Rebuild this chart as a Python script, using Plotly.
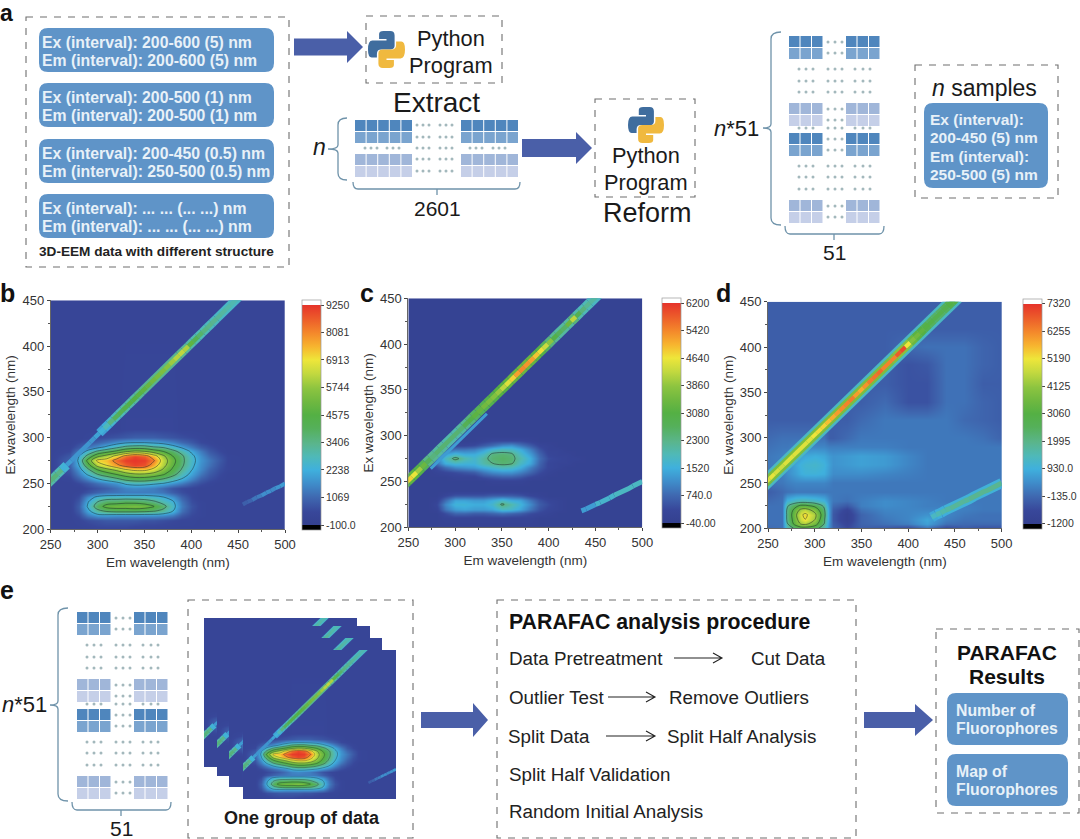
import plotly.graph_objects as go

W, H = 1080, 839
FONT = "Liberation Sans"

# ---------- EEM data ----------
EM_GRID = [250,270,280,290,300,310,320,330,340,350,360,370,380,390,400,410,420,430,440,460,500]
EX_GRID = [200,210,215,220,225,230,235,240,245,250,255,260,265,270,275,280,285,290,295,300,310,450]

Z_B_HUNDREDS = [
 [3,3,3,3,4,4,4,4,3,3,3,3,3,3,3,3,3,3,3,3,3],
 [3,3,4,6,7,8,8,8,8,7,7,6,5,4,4,3,3,3,3,3,3],
 [3,3,6,14,19,19,18,18,18,18,18,17,14,8,5,4,3,3,3,3,3],
 [3,3,8,20,31,36,38,38,38,37,35,31,23,12,6,4,3,3,3,3,3],
 [3,3,9,24,40,50,52,52,54,52,46,38,26,14,7,4,3,3,3,3,3],
 [3,3,8,22,34,40,41,43,42,40,36,30,24,13,6,4,3,3,3,3,3],
 [3,3,6,17,25,28,28,28,28,28,26,23,18,10,5,3,3,3,3,3,3],
 [3,3,4,7,10,12,13,14,14,14,14,13,9,6,4,3,3,3,3,3,3],
 [3,3,3,5,7,9,12,15,16,15,14,11,7,5,4,3,3,3,3,3,3],
 [3,3,5,8,12,15,18,24,26,26,24,22,18,14,9,6,4,3,3,3,3],
 [3,4,9,15,22,27,32,38,41,41,38,34,28,22,15,9,6,4,3,3,3],
 [3,6,14,24,34,40,46,52,56,56,53,47,38,28,20,13,8,5,3,3,3],
 [3,8,18,32,46,54,60,68,72,72,66,56,44,33,23,16,10,6,4,3,3],
 [3,10,22,42,62,70,78,86,90,88,75,62,48,36,25,17,12,7,4,3,3],
 [3,10,24,50,72,74,85,91,92,91,82,64,50,37,26,18,13,8,4,3,3],
 [3,8,22,38,54,62,72,84,90,86,74,60,46,36,25,17,11,7,4,3,3],
 [3,5,14,26,36,42,48,56,60,58,52,46,38,30,21,14,8,5,3,3,3],
 [3,4,8,13,18,24,30,36,38,38,34,32,26,20,14,9,6,4,3,3,3],
 [3,3,5,7,10,13,17,20,21,21,20,18,15,11,8,5,4,3,3,3,3],
 [3,3,3,4,5,6,7,8,9,9,9,8,7,6,5,4,3,3,3,3,3],
 [3,3,3,3,3,3,3,4,4,4,4,4,4,3,3,3,3,3,3,3,3],
 [3,3,3,3,3,3,3,3,3,3,3,3,3,3,3,3,3,3,3,3,3],
]
Z_C_HUNDREDS = [
 [1,1,1,1,1,1,1,1,1,1,1,1,1,1,1,1,1,1,1,1,1],
 [1,1,1,2,2,2,2,2,2,2,2,2,2,1,1,1,1,1,1,1,1],
 [1,1,1,4,7,7,6,6,7,8,7,6,4,3,2,1,1,1,1,1,1],
 [1,1,2,9,13,14,13,13,14,18,17,14,9,5,3,2,1,1,1,1,1],
 [1,1,3,11,16,16,15,15,17,24,20,16,11,6,4,2,1,1,1,1,1],
 [1,1,2,8,14,14,13,13,15,18,15,14,9,5,3,2,1,1,1,1,1],
 [1,1,1,3,5,5,5,5,6,6,6,5,3,2,1,1,1,1,1,1,1],
 [1,1,1,1,1,1,1,1,1,1,1,1,1,1,1,1,1,1,1,1,1],
 [1,1,1,1,1,1,1,1,1,1,1,1,1,1,1,1,1,1,1,1,1],
 [1,1,1,1,1,1,1,1,2,2,2,2,1,1,1,1,1,1,1,1,1],
 [1,1,1,1,2,2,2,4,5,6,6,5,3,2,1,1,1,1,1,1,1],
 [1,1,2,3,4,5,6,9,11,12,12,10,7,4,2,1,1,1,1,1,1],
 [1,1,4,8,11,12,13,15,17,19,18,15,10,6,3,2,1,1,1,1,1],
 [1,1,8,15,17,16,16,20,23,25,24,18,14,7,3,2,2,1,1,1,1],
 [1,1,10,18,25,20,17,21,25,26,25,20,15,8,4,3,2,2,1,1,1],
 [1,1,8,14,17,15,15,18,24,25,24,18,13,7,3,2,2,1,1,1,1],
 [1,1,3,7,9,9,10,13,17,19,18,15,10,5,2,2,1,1,1,1,1],
 [1,1,1,2,3,3,4,6,8,11,12,9,6,3,2,1,1,1,1,1,1],
 [1,1,1,1,1,1,1,2,3,3,3,3,2,1,1,1,1,1,1,1,1],
 [1,1,1,1,1,1,1,1,1,1,1,1,1,1,1,1,1,1,1,1,1],
 [1,1,1,1,1,1,1,1,1,1,1,1,1,1,1,1,1,1,1,1,1],
 [1,1,1,1,1,1,1,1,1,1,1,1,1,1,1,1,1,1,1,1,1],
]
EM_GRID_D = [250,265,270,280,285,290,300,310,315,320,335,350,375,400,420,440,460,480,500]
EX_GRID_D = [200,205,210,215,220,225,230,240,250,260,270,280,290,300,320,340,360,380,400,420,450]
Z_D_HUNDREDS = [
 [-1,0,14,22,26,26,24,14,4,-2,-6,-3,-5,-8,-1,-8,-4,-6,-5],
 [0,0,18,36,42,44,36,20,5,-3,-8,-2,0,2,7,0,-1,-1,-1],
 [0,0,20,38,48,52,42,22,6,-4,-10,-2,1,3,8,2,0,0,0],
 [0,0,20,40,50,54,44,24,6,-4,-10,-2,2,3,5,3,1,0,0],
 [0,0,20,36,44,46,38,22,6,-3,-8,0,3,3,3,3,2,1,1],
 [0,0,18,28,32,32,28,18,5,-1,-4,2,4,3,2,2,2,1,1],
 [-1,0,10,14,15,15,13,10,4,1,0,2,4,3,2,1,1,1,1],
 [-3,-1,0,1,1,1,1,1,1,1,1,1,1,1,1,1,1,1,1],
 [0,1,2,3,3,3,3,3,2,1,1,1,1,1,1,1,1,1,1],
 [1,2,4,7,9,10,10,9,6,4,4,4,3,2,1,1,1,1,1],
 [1,2,4,8,10,11,12,10,7,5,6,7,6,3,1,1,1,1,1],
 [1,2,3,5,7,8,9,8,6,5,6,7,6,3,1,1,1,1,1],
 [0,1,1,2,3,3,3,3,2,2,2,2,2,1,1,1,1,1,1],
 [-1,0,0,0,0,0,0,0,-3,-3,-1,1,1,1,1,1,1,0,-2],
 [-3,-3,-3,-3,-3,-3,-3,-3,-3,-3,-3,-1,1,1,1,1,-1,-2,-3],
 [-3,-3,-3,-3,-3,-3,-3,-3,-3,-3,-3,-3,-1,-5,-5,0,0,-2,-3],
 [-3,-3,-3,-3,-3,-3,-3,-3,-3,-3,-3,-3,-3,-5,-5,0,0,-3,-3],
 [-3,-3,-3,-3,-3,-3,-3,-3,-3,-3,-3,-3,-3,-5,-4,0,0,-2,-3],
 [-3,-3,-3,-3,-3,-3,-3,-3,-3,-3,-3,-3,-3,-1,0,0,0,-2,-3],
 [-3,-3,-3,-3,-3,-3,-3,-3,-3,-3,-3,-3,-3,-3,-3,-3,-3,-3,-3],
 [-3,-3,-3,-3,-3,-3,-3,-3,-3,-3,-3,-3,-3,-3,-3,-3,-3,-3,-3],
]

# first-order scatter band
BAND_EX = [245,250,255,260,265,270,275,280,285,290,295,300,305,310,315,320,325,330,335,340,345,350,355,360,365,370,375,380,385,390,395,400,405,410,415,420,425,430,435,440,445,450,455]
BAND_EM = [242,247,252,257,262,267,272,277,282,287,292,297,302,307,312,317,322,327,332,337,342,347,352,357,362,367,372,377,382,387,392,397,402,407,412,417,422,427,432,437,442,447,452]
BAND_EM_C = [244,249,254,259,264,269,274,279,284,289,294,299,304,309,314,319,324,329,334,339,344,349,354,359,364,369,374,379,384,389,394,399,404,409,414,419,424,429,434,439,444,449,454]
BAND_B_OUTER = [3000,3000,3000,2800,2400,1900,None,None,None,None,None,None,2000,2200,2500,2700,2800,3000,3000,3100,3200,3300,3300,3300,3300,3300,3300,3300,3300,3300,3200,3000,2900,2800,2800,2700,2700,2600,2600,2600,2600,2600,2600]
BAND_B_INNER = [3500,3600,3600,3400,2300,1900,1800,1700,1800,1800,1800,2000,2300,2800,3500,4000,4200,4400,4500,4600,4700,4800,5000,5200,5300,5400,5600,5900,6200,6300,6100,4800,4200,3800,3500,3400,3300,3200,3100,3000,2900,2900,2900]
BAND_C_OUTER = [3000,3200,3200,3000,2700,2300,2200,2100,2100,2000,2000,2000,2100,2200,2400,2600,2700,2800,2900,3000,3100,3100,3200,3300,3300,3400,3400,3300,3200,3000,2700,2400,2200,2100,2000,2100,2400,2000,1900,1900,1800,1800,1800]
BAND_C_INNER = [4700,4800,4600,4000,3400,2700,2400,2500,2500,2600,2500,2500,2500,2800,3000,3200,3300,3500,3600,3700,3900,4200,4500,4800,5200,5400,5300,5200,4900,4700,4300,3800,3000,2700,2600,3400,4200,2800,2400,2200,2100,2100,2100]
BAND_D_HALO = [1300,1300,1300,1300,1300,1300,1300,1300,1300,1300,1300,1300,1300,1300,1300,1300,1300,1300,1300,1300,1300,1300,1300,1300,1300,1300,1300,1300,1300,1300,1300,1300,1300,1300,1300,1300,1300,1300,1300,1300,1300,1300,1300]
BAND_D_OUTER = [3600,3700,3800,3800,3800,3800,3800,3800,3800,3800,3800,3800,3800,3800,3800,3800,3800,3800,3800,3800,3800,3800,3800,3800,3800,3800,3800,3800,3900,4000,4200,4000,3500,3200,3000,2800,2500,2400,2400,2500,2800,3000,3000]
BAND_D_INNER = [4800,5000,5100,4900,4800,5000,5000,5000,4900,5000,5000,5200,5300,5400,5600,5800,6000,6200,6300,6400,6000,5800,6100,6400,6500,6600,6300,6000,6300,6800,7000,5200,3900,3600,3300,3100,2900,2800,2800,2800,3000,3300,3300]
EDGE_C_EM = [274,284,294,304,314,324,334]
EDGE_C_EX = [264,274,284,294,304,314,324]
EDGE_C_V  = [1300,1300,1300,1300,1300,1300,1300]

# second-order scatter band
SO_B_EM = [455,460,465,470,475,480,485,490,495,500]
SO_B_EX = [227,230,232,235,237,240,242,245,247,250]
SO_B_V  = [900,1000,1300,1400,1700,1700,1600,1800,1900,1900]
SO_C_EM = [435,440,450,455,460,465,470,475,480,485,490,495,500]
SO_C_EX = [218,220,225,227,230,232,235,237,240,242,245,247,250]
SO_C_V  = [1300,1300,1700,1700,1800,1700,1800,1800,1800,1800,1800,1900,1800]
SO_D_EM = [425,430,435,440,445,450,455,460,465,470,475,480,485,490,495,500]
SO_D_EX = [212,215,217,220,222,225,227,230,232,235,237,240,242,245,247,250]
SO_D_HALO = [800,900,900,1000,1000,1000,1000,1000,1000,1000,1000,1000,1000,1000,1000,1000]
SO_D_V  = [1300,1500,1600,1700,1800,1800,1800,1800,1900,1900,1900,1900,1900,1900,1900,1900]

COLOR_STOPS = [(0,'#34408f'),(.06,'#38479a'),(.125,'#3f68b0'),(.19,'#3f8ecb'),(.25,'#3fb0dd'),(.31,'#4fb9b8'),
               (.37,'#5ab58c'),(.44,'#55b05a'),(.5,'#54b044'),(.56,'#6fb840'),(.62,'#8cc440'),(.69,'#c4d93f'),
               (.75,'#eee63a'),(.81,'#f7b52f'),(.87,'#f48a2b'),(.94,'#ec5a2a'),(1,'#e6332a')]
PAD = 5/230
SCALE = [[0,'#000000'],[PAD,'#000000']] + [[PAD+t*(1-2*PAD),c] for t,c in COLOR_STOPS] + [[1-PAD,'#ffffff'],[1,'#ffffff']]

def value_color(v, lo, hi):
    t=max(0,min(1,(v-lo)/(hi-lo)))
    for (t0,c0),(t1,c1) in zip(COLOR_STOPS,COLOR_STOPS[1:]):
        if t<=t1:
            f=(t-t0)/(t1-t0)
            a=[int(c0[i:i+2],16) for i in (1,3,5)]; b=[int(c1[i:i+2],16) for i in (1,3,5)]
            return 'rgb(%d,%d,%d)'%tuple(round(x+(y-x)*f) for x,y in zip(a,b))
    return COLOR_STOPS[-1][1]

PANELS = [
 dict(z=Z_B_HUNDREDS, em=EM_GRID, ex=EX_GRID, box=(50.7,285,300.3,529.3), cbx=301.7, cby=300, lo=-100, hi=9250,
      ticks=[9250,8081,6913,5744,4575,3406,2238,1069,-100], labels=['9250','8081','6913','5744','4575','3406','2238','1069','-100.0'],
      cstart=2238, cstep=1169, cend=8100,
      curves=[(BAND_EM,BAND_EX,BAND_B_OUTER,9),(BAND_EM,BAND_EX,BAND_B_INNER,4.5),(SO_B_EM,SO_B_EX,SO_B_V,4)]),
 dict(z=Z_C_HUNDREDS, em=EM_GRID, ex=EX_GRID, box=(408.3,642.3,298.3,527.3), cbx=661.7, cby=298, lo=-40, hi=6200,
      ticks=[6200,5420,4640,3860,3080,2300,1520,740,-40], labels=['6200','5420','4640','3860','3080','2300','1520','740.0','-40.00'],
      cstart=2300, cstep=780, cend=5500,
      curves=[(EDGE_C_EM,EDGE_C_EX,EDGE_C_V,3),(BAND_EM_C,BAND_EX,BAND_C_OUTER,10),(BAND_EM_C,BAND_EX,BAND_C_INNER,4.5),(SO_C_EM,SO_C_EX,SO_C_V,5)]),
 dict(z=Z_D_HUNDREDS, em=EM_GRID_D, ex=EX_GRID_D, box=(768,1001.7,301.7,528.3), cbx=1023, cby=298.5, lo=-1200, hi=7320,
      ticks=[7320,6255,5190,4125,3060,1995,930,-135,-1200], labels=['7320','6255','5190','4125','3060','1995','930.0','-135.0','-1200'],
      cstart=1995, cstep=1065, cend=6300,
      curves=[(BAND_EM,BAND_EX,BAND_D_HALO,14),(BAND_EM,BAND_EX,BAND_D_OUTER,9),(BAND_EM,BAND_EX,BAND_D_INNER,4),(SO_D_EM,SO_D_EX,SO_D_HALO,10),(SO_D_EM,SO_D_EX,SO_D_V,5)]),
]

fig = go.Figure()
layout = dict(width=W, height=H, margin=dict(l=0,r=0,t=0,b=0,autoexpand=False), paper_bgcolor='white', plot_bgcolor='rgba(0,0,0,0)',
              showlegend=False, font=dict(family=FONT, color='#333333'))

def add_curve(xa,ya,em,ex,vals,width,lo,hi):
    # one line trace per run of equal value, coloured through the chart's colour scale
    i=0; n=len(vals)
    while i<n-1:
        if vals[i] is None or vals[i+1] is None:
            i+=1; continue
        j=i+1
        while j<n-1 and vals[j+1]==vals[i]:
            j+=1
        fig.add_trace(go.Scatter(x=em[i:j+1],y=ex[i:j+1],xaxis=xa,yaxis=ya,mode='lines',hoverinfo='skip',
                                 line=dict(color=value_color(vals[i],lo,hi),width=width)))
        i=j

def add_eem(p, idx, zmin, zmax, k=1.0, colorbar=None, lines=True):
    xa, ya = f'x{idx}' if idx>1 else 'x', f'y{idx}' if idx>1 else 'y'
    z = [[v*100 for v in row] for row in p['z']]
    fig.add_trace(go.Heatmap(x=p['em'], y=p['ex'], z=z, xaxis=xa, yaxis=ya, zsmooth='best', colorscale=SCALE,
                             zmin=zmin, zmax=zmax, showscale=colorbar is not None, colorbar=colorbar, hoverinfo='skip'))
    if lines:
        fig.add_trace(go.Contour(x=p['em'], y=p['ex'], z=z, xaxis=xa, yaxis=ya, showscale=False, hoverinfo='skip',
                                 contours=dict(coloring='none', start=p['cstart'], end=p['cend'], size=p['cstep']),
                                 line=dict(color='#1c2a2a', width=0.5 if k==1 else 0.35)))
    for em,ex,vals,width in p['curves']:
        add_curve(xa,ya,em,ex,vals,width*k,p['lo'],p['hi'])

for i,p in enumerate(PANELS,1):
    x0,x1,y0,y1=p['box']
    unit=(p['hi']-p['lo'])/220
    zmin,zmax=p['lo']-5*unit,p['hi']+5*unit
    cb=dict(x=p['cbx']/W,xanchor='left',xpad=0,y=1-p['cby']/H,yanchor='top',ypad=0,len=230,lenmode='pixels',
            thickness=18.6,thicknessmode='pixels',tickvals=p['ticks'],ticktext=p['labels'],ticks='outside',ticklen=3,
            tickcolor='#444',tickfont=dict(size=10.5,family=FONT,color='#333'),outlinecolor='#999',outlinewidth=0.7)
    add_eem(p,i,zmin,zmax,colorbar=cb)
    s='' if i==1 else str(i)
    layout[f'xaxis{s}']=dict(domain=[x0/W,x1/W],range=[250,500],anchor=f'y{s}',tickvals=[250,300,350,400,450,500],
        ticks='outside',ticklen=3,tickcolor='#444',showgrid=False,zeroline=False,showline=True,linecolor='#666',linewidth=0.8,
        minor=dict(tickvals=[275,325,375,425,475],ticks='outside',ticklen=2,tickcolor='#555'),
        tickfont=dict(size=13,family=FONT,color='#333'),title=dict(text='Em wavelength (nm)',font=dict(size=13.5,family=FONT,color='#333'),standoff=6))
    layout[f'yaxis{s}']=dict(domain=[1-y1/H,1-y0/H],range=[200,450],anchor=f'x{s}',tickvals=[200,250,300,350,400,450],
        ticks='outside',ticklen=3,tickcolor='#444',showgrid=False,zeroline=False,showline=True,linecolor='#666',linewidth=0.8,
        minor=dict(tickvals=[225,275,325,375,425],ticks='outside',ticklen=2,tickcolor='#555'),
        tickfont=dict(size=13,family=FONT,color='#333'),title=dict(text='Ex wavelength (nm)',font=dict(size=13.5,family=FONT,color='#333'),standoff=3))

# stacked group of EEM maps in panel e
STACK = [(204,357,618,767),(217,370,626,776),(229,382,638,787),(243,396,650,799)]
pb=PANELS[0]
unit_b=(pb['hi']-pb['lo'])/220
for n,(x0,x1,y0,y1) in enumerate(STACK):
    idx=4+n
    add_eem(pb,idx,pb['lo']-5*unit_b,pb['hi']+5*unit_b,k=0.65,colorbar=None,lines=(n==3))
    layout[f'xaxis{idx}']=dict(domain=[x0/W,x1/W],range=[250,500],anchor=f'y{idx}',visible=False)
    layout[f'yaxis{idx}']=dict(domain=[1-y1/H,1-y0/H],range=[200,450],anchor=f'x{idx}',visible=False)

# overlay axes in pixel units for the schematic parts
layout['xaxis8']=dict(domain=[0,1],range=[0,W],anchor='y8',visible=False)
layout['yaxis8']=dict(domain=[0,1],range=[H,0],anchor='x8',visible=False)

shapes=[]; annots=[]
BLUE='#5f94c8'; ARROW='#4a5fa8'; GREY='#6e6e6e'; BRACE='#6f93aa'

def path(d,line=None,fill=None,width=1.2,dash=None):
    ln=dict(color=line or 'rgba(0,0,0,0)',width=width if line else 0)
    if dash: ln['dash']=dash
    shapes.append(dict(type='path',xref='x8',yref='y8',path=d,line=ln,fillcolor=fill or 'rgba(0,0,0,0)',layer='above'))
def rect(x0,y0,x1,y1,fill):
    shapes.append(dict(type='rect',xref='x8',yref='y8',x0=x0,y0=y0,x1=x1,y1=y1,fillcolor=fill,line=dict(width=0),layer='above'))
def dashed(x0,y0,x1,y1):
    shapes.append(dict(type='rect',xref='x8',yref='y8',x0=x0,y0=y0,x1=x1,y1=y1,line=dict(color=GREY,width=1.1,dash='7px,7px'),layer='above'))
def rrect(x0,y0,x1,y1,r=9,fill=BLUE):
    path(f'M{x0+r} {y0}L{x1-r} {y0}Q{x1} {y0} {x1} {y0+r}L{x1} {y1-r}Q{x1} {y1} {x1-r} {y1}L{x0+r} {y1}Q{x0} {y1} {x0} {y1-r}L{x0} {y0+r}Q{x0} {y0} {x0+r} {y0}Z',fill=fill)
def txt(x,y,s,size=14,color='#1a1a1a',anchor='left'):
    annots.append(dict(xref='x8',yref='y8',x=x,y=y,text=s,showarrow=False,xanchor=anchor,yanchor='middle',
                       font=dict(size=size,family=FONT,color=color),borderpad=0,borderwidth=0))
def block_arrow(x0,xs,xt,yc,hs,hh):
    path(f'M{x0} {yc-hs}L{xs} {yc-hs}L{xs} {yc-hh}L{xt} {yc}L{xs} {yc+hh}L{xs} {yc+hs}L{x0} {yc+hs}Z',fill=ARROW)
def thin_arrow(x0,x1,y):
    path(f'M{x0} {y}L{x1} {y}M{x1-9} {y-5}L{x1} {y}L{x1-9} {y+5}',line='#222',width=1.1)
dots_x=[];dots_y=[]
gdx=[];gdy=[]
def logo(x0,y0,s):
    def p(u,v): return f'{x0+u*s:.1f} {y0+v*s:.1f}'
    blue=[('M',.30,.08),('Q',.30,0,.42,0),('L',.60,0),('Q',.72,0,.72,.12),('L',.72,.40),('Q',.72,.50,.60,.50),('L',.36,.50),
          ('Q',.24,.50,.24,.62),('L',.24,.72),('L',.10,.72),('Q',0,.72,0,.50),('Q',0,.26,.12,.26),('L',.50,.26),('L',.50,.22),('L',.30,.22)]
    for col,flip in (('#3f6d9e',False),('#f0b93f',True)):
        d=''
        for c in blue:
            pts=list(c[1:])
            if flip: pts=[1-a for a in pts]
            d+=c[0]+' '.join(p(pts[i],pts[i+1]) for i in range(0,len(pts),2))
        path(d+'Z',fill=col)
    dots_x.append(x0+.39*s); dots_y.append(y0+.10*s)
    dots_x.append(x0+.61*s); dots_y.append(y0+.90*s)
def dots(xs,y):
    for x in xs:
        gdx.append(x);gdy.append(y)
ROWS=['#4f86bd','#7aa4cf','#a0b6d9','#c5cfe8']
def cells(x,y,ncol,cw,rh,c1,c2):
    for k in range(ncol):
        rect(x+k*cw,y,x+(k+1)*cw-1,y+rh,c1)
        rect(x+k*cw,y+rh+1,x+(k+1)*cw-1,y+2*rh+1,c2)
def brace_left(x,xn,yt,ym,yb,xe):
    path(f'M{xe} {yt}Q{x} {yt} {x} {yt+7}L{x} {ym-4}Q{x} {ym} {xn} {ym}Q{x} {ym} {x} {ym+4}L{x} {yb-7}Q{x} {yb} {xe} {yb}',line=BRACE,width=1.3)
def bracket_bottom(xl,xr,yt,yb,xm,ye):
    path(f'M{xl} {yt}Q{xl} {yb} {xl+5} {yb}L{xr-5} {yb}Q{xr} {yb} {xr} {yt}M{xm} {yb}L{xm} {ye}',line=BRACE,width=1.3)
def matrix51(x0,y0):
    tops=[0,67,97,164]
    cols=[(ROWS[0],ROWS[1]),(ROWS[2],ROWS[3]),(ROWS[0],ROWS[1]),(ROWS[2],ROWS[3])]
    for t,(a,b) in zip(tops,cols):
        cells(x0,y0+t,3,11.5,11,a,b)
        cells(x0+57,y0+t,3,11.5,11,a,b)
        dots([x0+39,x0+46,x0+53],y0+t+6)
        dots([x0+39,x0+46,x0+53],y0+t+17)
    for r in (33,45,56,92,130,141,153):
        dots([x0+10,x0+17,x0+24,x0+39,x0+46,x0+53,x0+66,x0+74,x0+81],y0+r)

# ---------- panel letters ----------
txt(0,13,'<b>a</b>',23,'#111'); txt(0,293,'<b>b</b>',25,'#111'); txt(360,293,'<b>c</b>',25,'#111')
txt(716,293,'<b>d</b>',25,'#111'); txt(0,590,'<b>e</b>',25,'#111')

# ---------- panel a ----------
dashed(26,17,289,267)
BOX_TEXT=[('Ex (interval): 200-600 (5) nm','Em (interval): 200-600 (5) nm'),
          ('Ex (interval): 200-500 (1) nm','Em (interval): 200-500 (1) nm'),
          ('Ex (interval): 200-450 (0.5) nm','Em (interval): 250-500 (0.5) nm'),
          ('Ex (interval): ... ... (... ...) nm','Em (interval): ... ... (... ...) nm')]
for (a,b),y in zip(BOX_TEXT,[28,83,139,194]):
    rrect(39,y,274,y+44)
    txt(42,y+14,f'<b>{a}</b>',15.8,'#e8f1f8'); txt(42,y+32,f'<b>{b}</b>',15.8,'#e8f1f8')
txt(39,251,'<b>3D-EEM data with different structure</b>',13.6,'#222')
block_arrow(294,347,363,47,8.5,16)
dashed(366,16,502,83)
logo(368,31,37)
txt(451,38,'Python',21.8,anchor='center'); txt(451,65,'Program',21.8,anchor='center')
txt(436,102,'Extract',28,anchor='center')
txt(313,147,'<i>n</i>',23)
brace_left(338,328,118,149,180,347)
for x in (355,461):
    cells(x,120,5,11.6,11,ROWS[0],ROWS[1])
    cells(x,154,5,11.6,11,ROWS[2],ROWS[3])
for y in (125,137,159,171):
    dots([417,423,429,440,446,452],y)
dots([365,371,377,387,393,399,417,423,429,440,446,452,470,476,482,493,499,505],148)
bracket_bottom(353,520,182,189,437,195)
txt(437,208,'2601',21,anchor='center')
block_arrow(522,576,592,148,9,16)
dashed(595,99,695,197)
logo(628,107,36)
txt(646,155,'Python',21.8,anchor='center'); txt(646,182,'Program',21.8,anchor='center')
txt(647,213,'Reform',27,anchor='center')
txt(759,128,'<i>n</i>*51',22,anchor='right')
brace_left(771,763,32,128,225,781)
matrix51(789,36)
bracket_bottom(785,884,226,234,834,240)
txt(834,252,'51',21,anchor='center')
dashed(915,65,1058,198)
txt(984,88,'<i>n</i> samples',23,anchor='center')
rrect(924,103,1048,188)
for s,y in zip(['Ex (interval):','200-450 (5) nm','Em (interval):','250-500 (5) nm'],[119,137,156,174]):
    txt(930,y,f'<b>{s}</b>',15.5,'#e8f1f8')

# ---------- panel e ----------
txt(47,704,'<i>n</i>*51',22,anchor='right')
brace_left(58,50,608,705,801,68)
matrix51(77,612)
bracket_bottom(72,171,802,810,121,816)
txt(121,828,'51',21,anchor='center')
dashed(188,600,413,838)
txt(302,818,'<b>One group of data</b>',18,'#1a1a1a',anchor='center')
block_arrow(421,473,488,720,8,17)
dashed(497,600,856,838)
txt(509,622,'<b>PARAFAC analysis procedure</b>',21.3,'#111')
PROC=[(509,658,'Data Pretreatment'),(751,658,'Cut Data'),(509,697,'Outlier Test'),(669,697,'Remove Outliers'),
      (508,736,'Split Data'),(667,736,'Split Half Analysis'),(509,774,'Split Half Validation'),(509,811,'Random Initial Analysis')]
for x,y,s in PROC:
    txt(x,y,s,18.8,'#222')
thin_arrow(674,722,658); thin_arrow(608,655,697); thin_arrow(606,655,736)
block_arrow(864,915,933,720,8,16)
dashed(936,629,1079,813)
txt(1007,652,'<b>PARAFAC</b>',21,'#111',anchor='center'); txt(1007,676,'<b>Results</b>',21,'#111',anchor='center')
rrect(947,693,1068,745); rrect(947,754,1068,806)
for s,y in zip(['Number of','Fluorophores','Map of','Fluorophores'],[710,728,771,789]):
    txt(956,y,f'<b>{s}</b>',15.8,'#e8f1f8')

fig.add_trace(go.Scatter(x=gdx,y=gdy,xaxis='x8',yaxis='y8',mode='markers',hoverinfo='skip',
                         marker=dict(size=3,color='#a3b8bc',line=dict(width=0))))
fig.add_trace(go.Scatter(x=dots_x,y=dots_y,xaxis='x8',yaxis='y8',mode='markers',hoverinfo='skip',
                         marker=dict(size=3,color='white',line=dict(width=0))))
layout['shapes']=shapes; layout['annotations']=annots
fig.update_layout(**layout)
fig.write_html("out.html",config=dict(displayModeBar=False),post_script="document.body.style.margin='0';document.documentElement.style.overflow='hidden';")
